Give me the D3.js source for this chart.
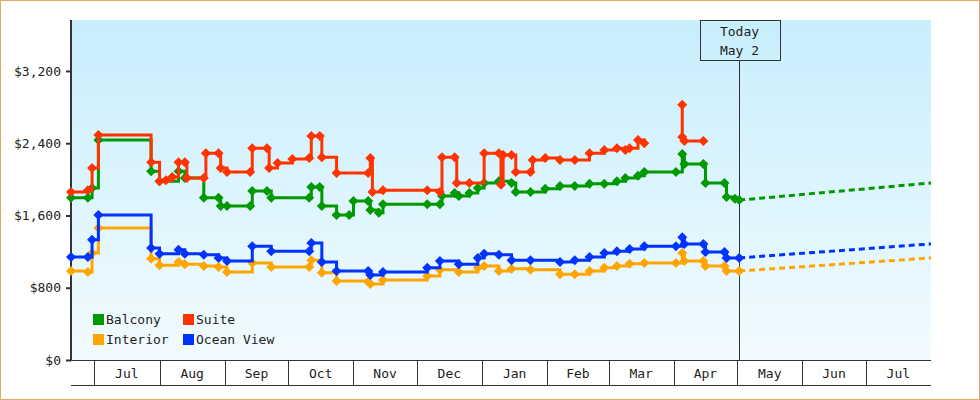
<!DOCTYPE html>
<html><head><meta charset="utf-8">
<script src="https://cdn.jsdelivr.net/npm/d3@7"></script>
<style>body{margin:0;background:#fff}svg{display:block}text{font-family:"DejaVu Sans Mono",monospace;font-size:13px;fill:#222}</style>
</head><body><svg id="c" width="980" height="400"></svg>
<script>
const balconyDates=["2023-06-20","2023-06-28","2023-06-30","2023-07-03","2023-07-28","2023-08-01","2023-08-10","2023-08-13","2023-08-22","2023-08-29","2023-08-30","2023-09-02","2023-09-13","2023-09-14","2023-09-21","2023-09-23","2023-10-11","2023-10-12","2023-10-16","2023-10-17","2023-10-24","2023-10-30","2023-11-01","2023-11-08","2023-11-09","2023-11-13","2023-11-15","2023-12-06","2023-12-12","2023-12-13","2023-12-19","2023-12-21","2023-12-26","2023-12-30","2024-01-02","2024-01-09","2024-01-15","2024-01-17","2024-01-24","2024-01-31","2024-02-07","2024-02-14","2024-02-21","2024-02-28","2024-03-05","2024-03-09","2024-03-15","2024-03-18","2024-04-02","2024-04-05","2024-04-06","2024-04-15","2024-04-16","2024-04-25","2024-04-26","2024-04-30","2024-05-02"];
const balconyValues=[1795,1795,1905,2435,2090,1980,2090,2015,1795,1795,1705,1705,1705,1870,1870,1795,1795,1915,1915,1705,1605,1605,1760,1760,1660,1630,1725,1725,1725,1815,1850,1815,1850,1905,1960,1980,1960,1860,1860,1895,1925,1925,1950,1950,1980,2015,2040,2080,2080,2280,2170,2170,1960,1960,1805,1785,1770];
const suiteDates=["2023-06-20","2023-06-28","2023-06-30","2023-07-03","2023-07-28","2023-08-01","2023-08-04","2023-08-07","2023-08-10","2023-08-13","2023-08-14","2023-08-22","2023-08-23","2023-08-29","2023-08-30","2023-09-02","2023-09-13","2023-09-14","2023-09-21","2023-09-22","2023-09-26","2023-10-03","2023-10-11","2023-10-12","2023-10-16","2023-10-17","2023-10-24","2023-11-08","2023-11-09","2023-11-10","2023-11-15","2023-12-06","2023-12-12","2023-12-13","2023-12-19","2023-12-20","2023-12-26","2024-01-02","2024-01-09","2024-01-10","2024-01-11","2024-01-15","2024-01-17","2024-01-24","2024-01-25","2024-01-31","2024-02-07","2024-02-14","2024-02-21","2024-02-28","2024-03-05","2024-03-09","2024-03-11","2024-03-15","2024-03-18","2024-03-25","2024-04-05","2024-04-05","2024-04-06","2024-04-15"];
const suiteValues=[1860,1880,2125,2490,2190,1980,1990,2025,2190,2190,2015,2015,2290,2290,2125,2080,2080,2345,2345,2125,2180,2225,2235,2480,2480,2245,2070,2070,2235,1860,1880,1880,1860,2245,2245,1960,1960,2290,2290,1940,2270,2270,2080,2080,2215,2235,2215,2215,2290,2325,2345,2325,2345,2435,2400,null,2825,2470,2425,2425];
const oceanDates=["2023-06-20","2023-06-28","2023-06-30","2023-07-03","2023-07-28","2023-08-01","2023-08-10","2023-08-13","2023-08-22","2023-08-29","2023-09-02","2023-09-14","2023-09-23","2023-10-11","2023-10-12","2023-10-17","2023-10-24","2023-11-08","2023-11-09","2023-11-15","2023-12-06","2023-12-12","2023-12-21","2023-12-30","2024-01-02","2024-01-09","2024-01-15","2024-01-24","2024-02-07","2024-02-14","2024-02-21","2024-02-28","2024-03-05","2024-03-11","2024-03-18","2024-04-02","2024-04-05","2024-04-06","2024-04-15","2024-04-16","2024-04-25","2024-04-26","2024-05-02"];
const oceanValues=[1140,1140,1330,1605,1240,1175,1220,1175,1165,1130,1095,1260,1205,1205,1295,1085,985,985,940,975,1020,1095,1060,1130,1175,1165,1105,1105,1085,1105,1140,1185,1205,1230,1260,1260,1360,1285,1285,1195,1195,1130,1130];
const interiorValues=[985,975,1185,1460,1120,1050,1085,1060,1040,1030,975,1075,1030,1030,1105,965,875,865,840,885,930,1000,975,1020,1040,985,1010,1000,950,950,985,1020,1040,1065,1075,1075,1185,1095,1095,1040,1040,985,985];
const forecastDates=["2024-05-02","2024-08-01"];
const forecastBalcony=[1770,1960];
const forecastOcean=[1130,1285];
const forecastInterior=[985,1130];
const yTicks=[0,800,1600,2400,3200];
const seriesNames=["Balcony","Suite","Interior","Ocean View"];
const colors={"Balcony":"#009900","Suite":"#ff3300","Interior":"#ffa500","Ocean View":"#0033ff"};
const todayDate="2024-05-02";

const P=d3.timeParse("%Y-%m-%d");
const svg=d3.select("#c");
const L=71,R=931,T=20,B=360;
svg.append("rect").attr("x",0.5).attr("y",0.5).attr("width",979).attr("height",399).attr("fill","#fff").attr("stroke","#e8a860");
const g=svg.append("defs").append("linearGradient").attr("id","bg").attr("x1",0).attr("y1",0).attr("x2",0).attr("y2",1);
g.append("stop").attr("offset","0").attr("stop-color","#c8eefc");
g.append("stop").attr("offset","1").attr("stop-color","#f2fbff");
svg.append("rect").attr("x",L).attr("y",T).attr("width",R-L).attr("height",B-T).attr("fill","url(#bg)");

const x=d3.scaleTime().domain([P("2023-06-20"),P("2024-08-01")]).range([L,R]);
const y=d3.scaleLinear().domain([0,3764]).range([B,T]);

const ya=svg.append("g").attr("transform",`translate(${L},0)`).call(d3.axisLeft(y).tickValues(yTicks).tickSize(5).tickFormat(d=>"$"+d3.format(",")(d)));
ya.select(".domain").remove();
ya.selectAll("line").attr("stroke","#333").attr("stroke-width",2);
ya.selectAll("text").attr("dx",-2);
svg.append("line").attr("x1",L).attr("x2",L).attr("y1",T).attr("y2",B+1).attr("stroke","#333").attr("stroke-width",2);

svg.append("line").attr("x1",L).attr("x2",R).attr("y1",B+0.5).attr("y2",B+0.5).attr("stroke","#333");
svg.append("line").attr("x1",L).attr("x2",R).attr("y1",385.5).attr("y2",385.5).attr("stroke","#333");
const months=x.ticks(d3.timeMonth.every(1)).filter(m=>x(m)<R-1);
months.forEach(m=>{
  const xx=Math.round(x(m))+0.5;
  svg.append("line").attr("x1",xx).attr("x2",xx).attr("y1",B).attr("y2",385).attr("stroke","#333");
  const nx=d3.timeMonth.offset(m,1);
  svg.append("text").attr("x",(x(m)+Math.min(x(nx),R))/2).attr("y",378).attr("text-anchor","middle").text(d3.timeFormat("%b")(m));
});

const tx=Math.round(x(P(todayDate)))+0.5;
svg.append("line").attr("x1",tx).attr("x2",tx).attr("y1",60).attr("y2",B).attr("stroke","#333");
svg.append("rect").attr("x",700.5).attr("y",20.5).attr("width",80).attr("height",40).attr("fill","none").attr("stroke","#333");
svg.append("text").attr("x",tx).attr("y",36).attr("text-anchor","middle").text("Today");
svg.append("text").attr("x",tx).attr("y",55).attr("text-anchor","middle").text("May 2");

function build(dates,vals){return dates.map((d,i)=>({d:P(d),v:vals[i]}));}
const data={
 "Balcony":build(balconyDates,balconyValues),
 "Suite":build(suiteDates,suiteValues),
 "Interior":build(oceanDates,interiorValues),
 "Ocean View":build(oceanDates,oceanValues)};
const fc={"Balcony":forecastBalcony,"Interior":forecastInterior,"Ocean View":forecastOcean};
const line=d3.line().defined(p=>p.v!=null).x(p=>x(p.d)).y(p=>y(p.v)).curve(d3.curveStepAfter);
const fl=d3.line().x(p=>x(p.d)).y(p=>y(p.v));
const diamond="M0,-5L5,0L0,5L-5,0Z";
["Balcony","Suite","Interior","Ocean View"].forEach(n=>{
  const c=colors[n];
  if(fc[n]) svg.append("path").attr("d",fl(build(forecastDates,fc[n]))).attr("fill","none").attr("stroke",c).attr("stroke-width",3).attr("stroke-dasharray","6,4");
  svg.append("path").attr("d",line(data[n])).attr("fill","none").attr("stroke",c).attr("stroke-width",3);
  svg.append("g").selectAll("path").data(data[n].filter(p=>p.v!=null)).join("path")
    .attr("transform",p=>`translate(${x(p.d)},${y(p.v)})`).attr("d",diamond).attr("fill",c);
});

seriesNames.forEach((n,i)=>{
  const lx=93+(i%2)*90, ly=314+Math.floor(i/2)*20;
  svg.append("rect").attr("x",lx).attr("y",ly).attr("width",11).attr("height",11).attr("fill",colors[n]);
  svg.append("text").attr("x",lx+13).attr("y",ly+10).text(n);
});
</script></body></html>
